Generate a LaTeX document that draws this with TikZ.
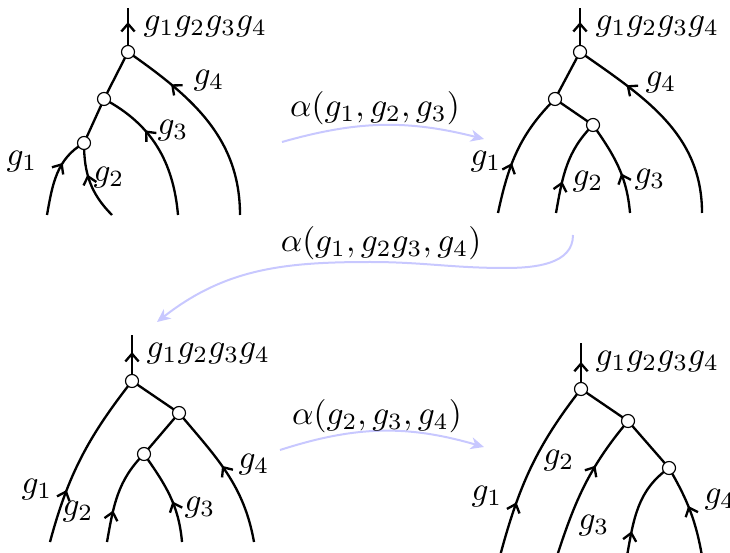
\documentclass[tikz,border=0pt]{standalone}
\usetikzlibrary{arrows.meta,decorations.markings}
\definecolor{lav}{RGB}{200,200,255}
\tikzset{
  vtx/.style={circle,draw,fill=white,line width=0.35pt,minimum size=3.9pt,inner sep=0pt},
  wire/.style={line width=0.7pt},
  barb at/.style={postaction={decorate,decoration={markings,mark=at position #1 with {\arrow{Straight Barb[length=2.3pt,width=4pt]}}}}},
  move/.style={line width=0.6pt,draw=lav,-{Stealth[length=4pt,width=3.6pt,inset=1.2pt]}},
  lbl/.style={inner sep=0pt},
}
\begin{document}
\begin{tikzpicture}[x=0.3pt,y=0.3pt]
\useasboundingbox (0,0) rectangle (730,-552);
% ---------- tree 1 ----------
\coordinate (A1) at (128,-52); \coordinate (B1) at (104,-99); \coordinate (C1) at (84,-143);
\coordinate (T1) at (128,-8);
\coordinate (p1) at (47,-215); \coordinate (q1) at (112,-215);
\coordinate (r1) at (178,-215); \coordinate (s1) at (240,-215);
\draw[wire,barb at=0.68] (A1) -- (T1);
\draw[wire] (A1) -- (B1) -- (C1);
\draw[wire,barb at=0.74] (s1) to[out=90,in=-35] (A1);
\draw[wire,barb at=0.64] (r1) to[out=95,in=-28] (B1);
\draw[wire,barb at=0.65] (p1) to[out=80,in=-150] (C1);
\draw[wire,barb at=0.6] (q1) to[out=135,in=-90] (C1);
\node[vtx] (a1) at (A1) {}; \node[vtx] (b1) at (B1) {}; \node[vtx] (c1) at (C1) {};
\node[lbl,anchor=west] (t1) at (143,-27) {$g_1g_2g_3g_4$};
\node[lbl] (x14) at (209,-81) {$g_4$};
\node[lbl] (x13) at (173,-131) {$g_3$};
\node[lbl] (x11) at (22,-162) {$g_1$};
\node[lbl] (x12) at (109,-178) {$g_2$};
% ---------- tree 2 ----------
\coordinate (A2) at (580,-52); \coordinate (B2) at (555,-99); \coordinate (C2) at (593,-125);
\coordinate (T2) at (580,-8);
\coordinate (p2) at (498,-213); \coordinate (q2) at (556,-213);
\coordinate (r2) at (630,-213); \coordinate (s2) at (702,-213);
\draw[wire,barb at=0.68] (A2) -- (T2);
\draw[wire] (A2) -- (B2) -- (C2);
\draw[wire,barb at=0.73] (s2) to[out=90,in=-35] (A2);
\draw[wire,barb at=0.4] (p2) to[out=78,in=-135] (B2);
\draw[wire,barb at=0.33] (q2) to[out=80,in=-135] (C2);
\draw[wire,barb at=0.42] (r2) to[out=95,in=-55] (C2);
\node[vtx] (a2) at (A2) {}; \node[vtx] (b2) at (B2) {}; \node[vtx] (c2) at (C2) {};
\node[lbl,anchor=west] (t2) at (595,-27) {$g_1g_2g_3g_4$};
\node[lbl] (x24) at (661,-83) {$g_4$};
\node[lbl] (x21) at (486,-162) {$g_1$};
\node[lbl] (x22) at (588,-182) {$g_2$};
\node[lbl] (x23) at (650,-180) {$g_3$};
% ---------- tree 3 ----------
\coordinate (A3) at (132,-381); \coordinate (B3) at (179,-413); \coordinate (C3) at (144,-454);
\coordinate (T3) at (132,-335);
\coordinate (p3) at (50,-542); \coordinate (q3) at (107,-542);
\coordinate (r3) at (182,-542); \coordinate (s3) at (254,-542);
\draw[wire,barb at=0.63] (A3) -- (T3);
\draw[wire] (A3) -- (B3) -- (C3);
\draw[wire,barb at=0.3] (p3) to[out=75,in=-128] (A3);
\draw[wire,barb at=0.55] (s3) to[out=100,in=-50] (B3);
\draw[wire,barb at=0.33] (q3) to[out=80,in=-135] (C3);
\draw[wire,barb at=0.43] (r3) to[out=95,in=-55] (C3);
\node[vtx] (a3) at (A3) {}; \node[vtx] (b3) at (B3) {}; \node[vtx] (c3) at (C3) {};
\node[lbl,anchor=west] (t3) at (146,-354) {$g_1g_2g_3g_4$};
\node[lbl] (x34) at (254,-465) {$g_4$};
\node[lbl] (x31) at (37,-490) {$g_1$};
\node[lbl] (x32) at (78,-512) {$g_2$};
\node[lbl] (x33) at (200,-508) {$g_3$};
% ---------- tree 4 ----------
\coordinate (A4) at (581,-389); \coordinate (B4) at (628,-421); \coordinate (C4) at (669,-468);
\coordinate (T4) at (581,-343);
\coordinate (p4) at (500,-556); \coordinate (q4) at (557,-556);
\coordinate (r4) at (627,-556); \coordinate (s4) at (702,-556);
\draw[wire,barb at=0.59] (A4) -- (T4);
\draw[wire] (A4) -- (B4) -- (C4);
\draw[wire,barb at=0.3] (p4) to[out=75,in=-128] (A4);
\draw[wire,barb at=0.64] (q4) to[out=72,in=-130] (B4);
\draw[wire,barb at=0.25] (r4) to[out=80,in=-145] (C4);
\draw[wire,barb at=0.55] (s4) to[out=100,in=-60] (C4);
\node[vtx] (a4) at (A4) {}; \node[vtx] (b4) at (B4) {}; \node[vtx] (c4) at (C4) {};
\node[lbl,anchor=west] (t4) at (595,-362) {$g_1g_2g_3g_4$};
\node[lbl] (x42) at (559,-461) {$g_2$};
\node[lbl] (x41) at (487,-497) {$g_1$};
\node[lbl] (x43) at (594,-526) {$g_3$};
\node[lbl] (x44) at (720,-500) {$g_4$};
% ---------- moves ----------
\coordinate (m1s) at (282,-142); \coordinate (m1e) at (484,-139);
\draw[move] (m1s) to[bend left=15] (m1e);
\node[lbl] (al1) at (375,-108) {$\alpha(g_1,g_2,g_3)$};
\coordinate (m2s) at (573,-235); \coordinate (m2a) at (505,-268);
\coordinate (m2b) at (370,-262); \coordinate (m2e) at (157,-322);
\draw[move] (m2s) to[out=-90,in=0] (m2a) to[out=180,in=0] (m2b) to[out=180,in=38] (m2e);
\node[lbl] (al2) at (381,-243) {$\alpha(g_1,g_2g_3,g_4)$};
\coordinate (m3s) at (280,-450); \coordinate (m3e) at (484,-447);
\draw[move] (m3s) to[bend left=17] (m3e);
\node[lbl] (al3) at (377,-416) {$\alpha(g_2,g_3,g_4)$};
\end{tikzpicture}
\end{document}
